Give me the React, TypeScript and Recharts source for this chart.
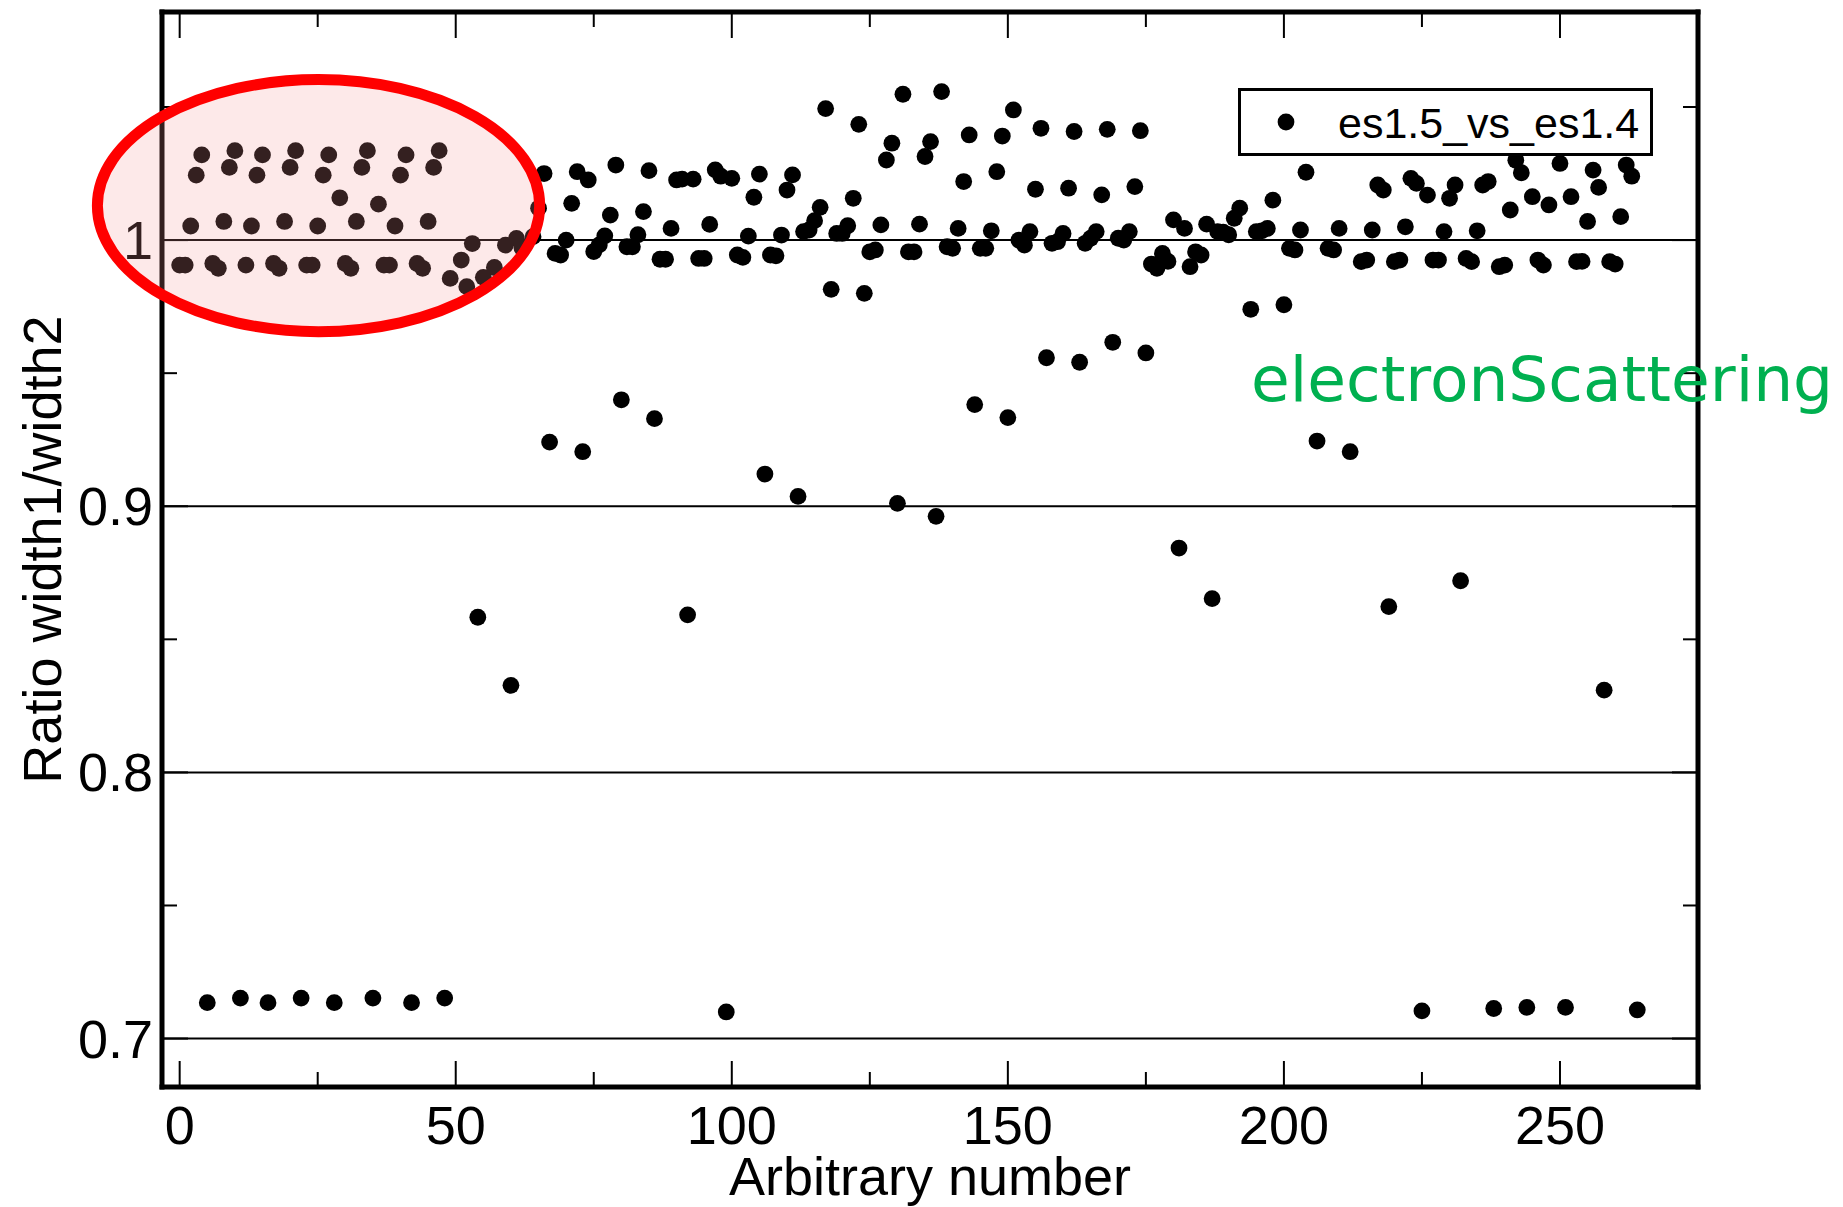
import React from 'react'
import {
  ScatterChart,
  Scatter,
  XAxis,
  YAxis,
  ReferenceLine,
  ReferenceArea,
  Legend,
} from 'recharts'

// width ratio per arbitrary number, in blocks of 50 (null = point not shown)
const ratio000 = [
  0.9906, 0.9906, 1.0053, 1.0244, 1.032, 0.7135, 0.9912, 0.9894, 1.007, 1.0273,
  1.0336, 0.7152, 0.9906, 1.0053, 1.0244, 1.032, 0.7135, 0.9912, 0.9894, 1.007,
  1.0273, 1.0336, 0.7152, 0.9906, 0.9906, 1.0053, 1.0244, 1.032, 0.7135, 1.0159,
  0.9912, 0.9894, 1.007, 1.0273, 1.0336, 0.7152, 1.0135, 0.9906, 0.9906, 1.0053,
  1.0244, 1.032, 0.7135, 0.9912, 0.9894, 1.007, 1.0273, 1.0336, 0.7152, 0.9856,
]
const ratio050 = [
  null, 0.9925, 0.9825, 0.9987, 0.8583, 0.986, null, 0.9897, null, 0.9981,
  0.8327, 1.0006, 0.997, null, 1.0013, 1.012, 1.025, 0.9241, 0.995, 0.9944,
  1.0, 1.0138, 1.0257, 0.9205, 1.0226, 0.9957, 0.9982, 1.0016, 1.0094, 1.0282,
  0.94, 0.9975, 0.9975, 1.002, 1.0107, 1.0261, 0.9329, 0.9928, 0.9928, 1.0044,
  1.0226, 1.0229, 0.8592, 1.0229, 0.9931, 0.9931, 1.0059, 1.0264, 1.024, 0.71,
]
const ratio100 = [
  1.0232, 0.9944, 0.9935, 1.0015, 1.0161, 1.0248, 0.9121, 0.9944, 0.9941, 1.0019,
  1.0188, 1.0245, 0.9037, 1.0032, 1.0038, 1.0073, 1.0123, 1.0494, 0.9815, 1.0025,
  1.0025, 1.0054, 1.0157, 1.0435, 0.98, 0.9956, 0.9963, 1.0057, 1.0301, 1.0364,
  0.9011, 1.0548, 0.9956, 0.9956, 1.006, 1.0314, 1.037, 0.8962, 1.0558, 0.9975,
  0.9969, 1.0044, 1.022, 1.0395, 0.9382, 0.9969, 0.9969, 1.0035, 1.0257, 1.0391,
]
const ratio150 = [
  0.9333, 1.0489, 1.0, 0.9981, 1.0032, 1.0191, 1.042, 0.9558, 0.9988, 0.9994,
  1.0025, 1.0195, 1.0408, 0.9541, 0.9988, 1.0007, 1.0032, 1.017, 1.0416, 0.9616,
  1.0007, 1.0, 1.0032, 1.0201, 1.0411, 0.9576, 0.991, 0.9894, 0.995, 0.992,
  1.0076, 0.8843, 1.0044, 0.99, 0.9956, 0.9944, 1.006, 0.8653, 1.0032, 1.003,
  1.002, 1.0082, 1.012, null, 0.974, 1.0032, 1.0035, 1.0044, 1.015, null,
]
const ratio200 = [
  0.9757, 0.9969, 0.9963, 1.0038, 1.0255, null, 0.9245, null, 0.9969, 0.9963,
  1.0044, null, 0.9205, null, 0.9919, 0.9925, 1.0038, 1.0207, 1.0188, 0.8623,
  0.9919, 0.9925, 1.005, 1.0232, 1.0213, 0.7104, 1.0169, 0.9925, 0.9925, 1.0032,
  1.0157, 1.0207, 0.872, 0.9931, 0.9919, 1.0035, 1.0207, 1.022, 0.7113, 0.99,
  0.9906, 1.0113, 1.03, 1.0253, 0.7117, 1.0163, 0.9925, 0.9906, 1.0132, null,
]
const ratio250 = [
  1.0288, 0.7117, 1.0163, 0.9919, 0.992, 1.007, 1.0263, 1.0198, 0.8309, 0.9919,
  0.991, 1.0088, 1.0282, 1.024, 0.7108,
]

const blocks: Array<[number, Array<number | null>]> = [
  [0, ratio000],
  [50, ratio050],
  [100, ratio100],
  [150, ratio150],
  [200, ratio200],
  [250, ratio250],
]

const points = blocks.flatMap(([start, vals]) =>
  vals
    .map((y, i) => ({ x: start + i, y }))
    .filter((p) => p.y !== null)
)

const xTicks = [0, 25, 50, 75, 100, 125, 150, 175, 200, 225, 250]
const yTicks = [0.7, 0.75, 0.8, 0.85, 0.9, 0.95, 1, 1.05]
const gridValues = [0.7, 0.8, 0.9, 1]
const xDomain: [number, number] = [-3.2, 275]
const yDomain: [number, number] = [0.6818, 1.0857]

// circled group of early points (bounds in data units)
const highlight = { x1: -14.9, x2: 65.2, y1: 0.9656, y2: 1.0603 }

const seriesName = 'es1.5_vs_es1.4'
const note = 'electronScattering'

const FONT = '"Liberation Sans", Arial, Helvetica, sans-serif'
const MAJOR = 26
const MINOR = 15

const isMajorX = (v: number) => v % 50 === 0
const isMajorY = (v: number) => Math.abs(v * 10 - Math.round(v * 10)) < 1e-6
const fmtY = (v: number) => (v === 1 ? '1' : v.toFixed(1))

function BottomTick({ x, y, payload }: any) {
  const major = isMajorX(payload.value)
  return (
    <g>
      <line x1={x} y1={y} x2={x} y2={y - (major ? MAJOR : MINOR)} stroke="#000" strokeWidth={2} />
      {major && (
        <text x={x} y={y + 57} textAnchor="middle" fontSize={54} fontFamily={FONT} fill="#000">
          {payload.value}
        </text>
      )}
    </g>
  )
}

function TopTick({ x, y, payload }: any) {
  const major = isMajorX(payload.value)
  return <line x1={x} y1={y} x2={x} y2={y + (major ? MAJOR : MINOR)} stroke="#000" strokeWidth={2} />
}

function LeftTick({ x, y, payload }: any) {
  const major = isMajorY(payload.value)
  return (
    <g>
      <line x1={x} y1={y} x2={x + (major ? MAJOR : MINOR)} y2={y} stroke="#000" strokeWidth={2} />
      {major && (
        <text x={x - 9} y={y + 19} textAnchor="end" fontSize={54} fontFamily={FONT} fill="#000">
          {fmtY(payload.value)}
        </text>
      )}
    </g>
  )
}

function RightTick({ x, y, payload }: any) {
  const major = isMajorY(payload.value)
  return <line x1={x} y1={y} x2={x - (major ? MAJOR : MINOR)} y2={y} stroke="#000" strokeWidth={2} />
}

function XTitle({ viewBox }: any) {
  return (
    <text
      x={viewBox.x + viewBox.width / 2}
      y={viewBox.y + 108}
      textAnchor="middle"
      fontSize={54}
      fontFamily={FONT}
      fill="#000"
    >
      Arbitrary number
    </text>
  )
}

function YTitle({ viewBox }: any) {
  const cx = viewBox.x + 61
  const cy = viewBox.y + viewBox.height / 2
  return (
    <text
      x={cx}
      y={cy}
      transform={`rotate(-90, ${cx}, ${cy})`}
      textAnchor="middle"
      fontSize={54}
      fontFamily={FONT}
      fill="#000"
    >
      Ratio width1/width2
    </text>
  )
}

function Dot({ cx, cy }: any) {
  return <circle cx={cx} cy={cy} r={8.4} fill="#000" />
}

function Ring({ x, y, width, height }: any) {
  return (
    <ellipse
      cx={x + width / 2}
      cy={y + height / 2}
      rx={width / 2}
      ry={height / 2}
      fill="rgba(245,149,149,0.21)"
      stroke="#ff0000"
      strokeWidth={11}
    />
  )
}

function LegendBox() {
  return (
    <div
      style={{
        width: 415,
        height: 68,
        boxSizing: 'border-box',
        border: '3px solid #000',
        background: '#fff',
        position: 'relative',
        fontFamily: FONT,
      }}
    >
      <svg width={20} height={20} style={{ position: 'absolute', left: 35, top: 21 }}>
        <circle cx={10} cy={10} r={8.4} fill="#000" />
      </svg>
      <span
        style={{
          position: 'absolute',
          left: 97,
          top: 8,
          fontSize: 43,
          lineHeight: '49px',
          color: '#000',
          whiteSpace: 'nowrap',
        }}
      >
        {seriesName}
      </span>
    </div>
  )
}

export default function App() {
  const frame = { stroke: '#000', strokeWidth: 5, strokeLinecap: 'square' as const }
  return (
    <div style={{ position: 'absolute', left: 0, top: 0, width: 1843, height: 1207, background: '#fff' }}>
      <ScatterChart width={1843} height={1207} margin={{ top: 11, right: 144, bottom: 0, left: 0 }}>
        <XAxis
          dataKey="x"
          type="number"
          domain={xDomain}
          allowDataOverflow
          ticks={xTicks}
          interval={0}
          height={120}
          tickSize={0}
          tickMargin={0}
          tickLine={false}
          axisLine={frame}
          tick={<BottomTick />}
          label={<XTitle />}
        />
        {/* top and right axes only carry the frame and inward ticks */}
        <XAxis
          xAxisId="top"
          orientation="top"
          dataKey="x"
          type="number"
          domain={xDomain}
          allowDataOverflow
          ticks={xTicks}
          interval={0}
          height={1}
          tickSize={0}
          tickMargin={0}
          tickLine={false}
          axisLine={frame}
          tick={<TopTick />}
        />
        <YAxis
          dataKey="y"
          type="number"
          domain={yDomain}
          allowDataOverflow
          ticks={yTicks}
          interval={0}
          width={162}
          tickSize={0}
          tickMargin={0}
          tickLine={false}
          axisLine={frame}
          tick={<LeftTick />}
          label={<YTitle />}
        />
        <YAxis
          yAxisId="right"
          orientation="right"
          dataKey="y"
          type="number"
          domain={yDomain}
          allowDataOverflow
          ticks={yTicks}
          interval={0}
          width={1}
          tickSize={0}
          tickMargin={0}
          tickLine={false}
          axisLine={frame}
          tick={<RightTick />}
        />
        {gridValues.map((v) => (
          <ReferenceLine key={v} y={v} stroke="#000" strokeWidth={2} />
        ))}
        <Scatter
          name={seriesName}
          data={points}
          fill="#000"
          shape={<Dot />}
          isAnimationActive={false}
        />
        <ReferenceArea
          x1={highlight.x1}
          x2={highlight.x2}
          y1={highlight.y1}
          y2={highlight.y2}
          ifOverflow="visible"
          shape={<Ring />}
          zIndex={3000}
        />
        <Legend
          layout="vertical"
          verticalAlign="middle"
          align="center"
          wrapperStyle={{ left: 1238, top: 88, width: 415, height: 68 }}
          content={() => <LegendBox />}
        />
      </ScatterChart>
      <div
        style={{
          position: 'absolute',
          left: 1251,
          top: 348,
          fontFamily: '"DejaVu Sans", Verdana, sans-serif',
          fontSize: 63,
          lineHeight: '63px',
          color: '#00b050',
          whiteSpace: 'nowrap',
        }}
      >
        {note}
      </div>
    </div>
  )
}
